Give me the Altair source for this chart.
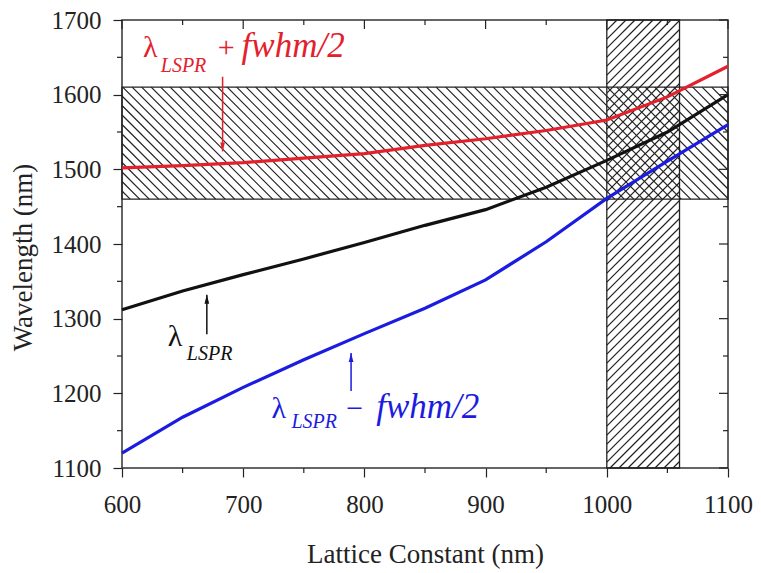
import altair as alt
import numpy as np
import pandas as pd

# ---------------- data ----------------
lattice_nm = [600, 650, 700, 750, 800, 850, 900, 950, 1000, 1050, 1100]
lspr_plus_half = [1502, 1505, 1509, 1515, 1521, 1532, 1541, 1552, 1566, 1597, 1638]
lspr = [1312, 1337, 1359, 1380, 1402, 1425, 1446, 1476, 1512, 1550, 1600]
lspr_minus_half = [1120, 1168, 1208, 1245, 1280, 1314, 1352, 1403, 1461, 1511, 1560]

x_major = [600, 700, 800, 900, 1000, 1100]
x_minor = [650, 750, 850, 950, 1050]
y_major = [1100, 1200, 1300, 1400, 1500, 1600, 1700]
y_minor = [1150, 1250, 1350, 1450, 1550, 1650]

wavelength_window = [1460, 1610]   # horizontal hatched band
lattice_window = [1000, 1060]      # vertical hatched band

X_DOMAIN = [600, 1100]
Y_DOMAIN = [1100, 1700]
W, H = 606, 448

RED = "#e3202b"
BLUE = "#1c1ce0"
BLACK = "#111111"
INK = "#222222"
FONT = "Liberation Serif"

xs = alt.Scale(domain=X_DOMAIN, nice=False, zero=False)
ys = alt.Scale(domain=Y_DOMAIN, nice=False, zero=False)

x_axis = alt.Axis(
    values=x_major, format="d", grid=False, domain=False,
    tickSize=9, tickWidth=1.2, tickColor=INK,
    labelFont=FONT, labelFontSize=25, labelColor=INK, labelPadding=15,
    labelFlush=False, labelOverlap=False,
    title="Lattice Constant (nm)", titleFont=FONT, titleFontSize=27,
    titleFontWeight="normal", titleColor=INK, titleBaseline="alphabetic",
    titleY=94, titleX=W / 2)
y_axis = alt.Axis(
    values=y_major, format="d", grid=False, domain=False,
    tickSize=9, tickWidth=1.2, tickColor=INK,
    labelFont=FONT, labelFontSize=25, labelColor=INK, labelPadding=12,
    labelFlush=False, labelOverlap=False,
    title="Wavelength (nm)", titleFont=FONT, titleFontSize=27,
    titleFontWeight="normal", titleColor=INK, titleAngle=270,
    titleBaseline="alphabetic", titleAlign="center", titleX=-91, titleY=237)

# ---------------- curves ----------------
curves = pd.DataFrame({
    "x": lattice_nm * 3,
    "y": lspr_plus_half + lspr + lspr_minus_half,
    "s": ["plus"] * len(lattice_nm) + ["center"] * len(lattice_nm) + ["minus"] * len(lattice_nm),
})

lines = alt.Chart(curves).mark_line(strokeWidth=3.2).encode(
    x=alt.X("x:Q", scale=xs, axis=x_axis),
    y=alt.Y("y:Q", scale=ys, axis=y_axis),
    color=alt.Color("s:N", scale=alt.Scale(domain=["plus", "center", "minus"],
                                           range=[RED, BLACK, BLUE]), legend=None),
    detail="s:N",
)

# ---------------- hatching (derived from band extents) ----------------
def to_px(x, y):
    return ((x - X_DOMAIN[0]) / (X_DOMAIN[1] - X_DOMAIN[0]) * W,
            (Y_DOMAIN[1] - y) / (Y_DOMAIN[1] - Y_DOMAIN[0]) * H)


def to_data(px, py):
    return (X_DOMAIN[0] + px / W * (X_DOMAIN[1] - X_DOMAIN[0]),
            Y_DOMAIN[1] - py / H * (Y_DOMAIN[1] - Y_DOMAIN[0]))


def hatch(xr, yr, kind, step):
    ax, ay = to_px(xr[0], yr[1])
    bx, by = to_px(xr[1], yr[0])
    rows = []
    if kind == "back":   # "\"  : py = px + c
        cmin, cmax = ay - bx, by - ax
        for c in np.arange(np.floor(cmin / step) * step, cmax + step, step):
            lo, hi = max(ax, ay - c), min(bx, by - c)
            if hi - lo > 0.5:
                rows.append((lo, lo + c, hi, hi + c))
    else:                # "/"  : py = c - px
        cmin, cmax = ax + ay, bx + by
        for c in np.arange(np.floor(cmin / step) * step, cmax + step, step):
            lo, hi = max(ax, c - by), min(bx, c - ay)
            if hi - lo > 0.5:
                rows.append((lo, c - lo, hi, c - hi))
    out = []
    for p0x, p0y, p1x, p1y in rows:
        x1, y1 = to_data(p0x, p0y)
        x2, y2 = to_data(p1x, p1y)
        out.append({"x": x1, "y": y1, "x2": x2, "y2": y2})
    return pd.DataFrame(out)


h_hatch = hatch(X_DOMAIN, wavelength_window, "back", 9.5)
v_hatch = hatch(lattice_window, Y_DOMAIN, "fwd", 9.0)
hatch_df = pd.concat([h_hatch, v_hatch], ignore_index=True)

hatch_layer = alt.Chart(hatch_df).mark_rule(color="#222222", strokeWidth=1.2).encode(
    x=alt.X("x:Q", scale=xs, axis=x_axis), y=alt.Y("y:Q", scale=ys, axis=y_axis),
    x2="x2:Q", y2="y2:Q")

bands = pd.DataFrame({
    "x": [X_DOMAIN[0], lattice_window[0]],
    "x2": [X_DOMAIN[1], lattice_window[1]],
    "y": [wavelength_window[0], Y_DOMAIN[0]],
    "y2": [wavelength_window[1], Y_DOMAIN[1]],
})
band_outline = alt.Chart(bands).mark_rect(fill="transparent", stroke="#222222", strokeWidth=1.3).encode(
    x=alt.X("x:Q", scale=xs, axis=x_axis), x2="x2:Q",
    y=alt.Y("y:Q", scale=ys, axis=y_axis), y2="y2:Q")

# ---------------- extra ticks (inward on top/right, minor everywhere) ----------------
def xticks(vals, y0, y1):
    return alt.Chart(pd.DataFrame({"v": vals})).mark_rule(color=INK, strokeWidth=1.2).encode(
        x=alt.X("v:Q", scale=xs, axis=x_axis), y=alt.value(y0), y2=alt.value(y1))


def yticks(vals, x0, x1):
    return alt.Chart(pd.DataFrame({"v": vals})).mark_rule(color=INK, strokeWidth=1.2).encode(
        y=alt.Y("v:Q", scale=ys, axis=y_axis), x=alt.value(x0), x2=alt.value(x1))


tick_layers = [
    xticks(x_major, 0, 9), xticks(x_minor, 0, 5), xticks(x_minor, H, H + 5),
    yticks(y_major, W, W - 9), yticks(y_minor, W, W - 5), yticks(y_minor, 0, -5),
]

# ---------------- annotations ----------------
arrow_x = [683, 670, 789]
arrow_from = [1624, 1279, 1203]
arrow_tip = [1524, 1332, 1254]
arrow_color = [RED, BLACK, BLUE]
arrow_dir = ["down", "up", "up"]

arrows = pd.DataFrame({"x": arrow_x, "y": arrow_from, "y2": arrow_tip,
                       "c": arrow_color, "d": arrow_dir})
shafts = alt.Chart(arrows).mark_rule(strokeWidth=1.5).encode(
    x=alt.X("x:Q", scale=xs, axis=x_axis), y=alt.Y("y:Q", scale=ys, axis=y_axis),
    y2="y2:Q", color=alt.Color("c:N", scale=None))
heads_down = alt.Chart(arrows[arrows.d == "down"]).mark_point(
    shape="M0,0L-0.5,-1.9L0.5,-1.9Z", filled=True, size=90, opacity=1).encode(
    x=alt.X("x:Q", scale=xs, axis=x_axis), y=alt.Y("y2:Q", scale=ys, axis=y_axis),
    color=alt.Color("c:N", scale=None))
heads_up = alt.Chart(arrows[arrows.d == "up"]).mark_point(
    shape="M0,0L-0.5,1.9L0.5,1.9Z", filled=True, size=90, opacity=1).encode(
    x=alt.X("x:Q", scale=xs, axis=x_axis), y=alt.Y("y2:Q", scale=ys, axis=y_axis),
    color=alt.Color("c:N", scale=None))

label_text = ["λ", "LSPR", "+", "fwhm/2",
              "λ", "LSPR",
              "λ", "LSPR", "−", "fwhm/2"]
label_x = [617.3, 632.0, 679.0, 698.7,
           637.8, 653.5,
           723.4, 739.8, 785.0, 809.7]
label_y = [1651, 1631, 1651, 1651,
           1263, 1244,
           1167.5, 1153, 1167.5, 1167.5]
label_size = [30, 20, 30, 35,
              30, 20,
              30, 20, 30, 35]
label_style = ["normal", "italic", "normal", "italic",
               "normal", "italic",
               "normal", "italic", "normal", "italic"]
label_color = [RED, RED, RED, RED,
               BLACK, BLACK,
               BLUE, BLUE, BLUE, BLUE]

labels = pd.DataFrame({"t": label_text, "x": label_x, "y": label_y, "fs": label_size,
                       "st": label_style, "c": label_color})
text_layers = []
for st in ["normal", "italic"]:
    for fs in sorted(set(label_size)):
        sub = labels[(labels.st == st) & (labels.fs == fs)]
        if len(sub) == 0:
            continue
        text_layers.append(
            alt.Chart(sub).mark_text(font=FONT, fontSize=fs, fontStyle=st,
                                     align="left", baseline="alphabetic").encode(
                x=alt.X("x:Q", scale=xs, axis=x_axis), y=alt.Y("y:Q", scale=ys, axis=y_axis),
                text="t:N", color=alt.Color("c:N", scale=None)))

chart = alt.layer(
    hatch_layer, band_outline, lines, *tick_layers, shafts, heads_down, heads_up, *text_layers
).properties(
    width=W, height=H,
    padding={"left": 1, "top": 0, "right": 0, "bottom": 2},
    background="white",
).configure_view(stroke="#333333", strokeWidth=1.5)

chart.save("out.html", embed_options={"renderer": "svg", "actions": False})
